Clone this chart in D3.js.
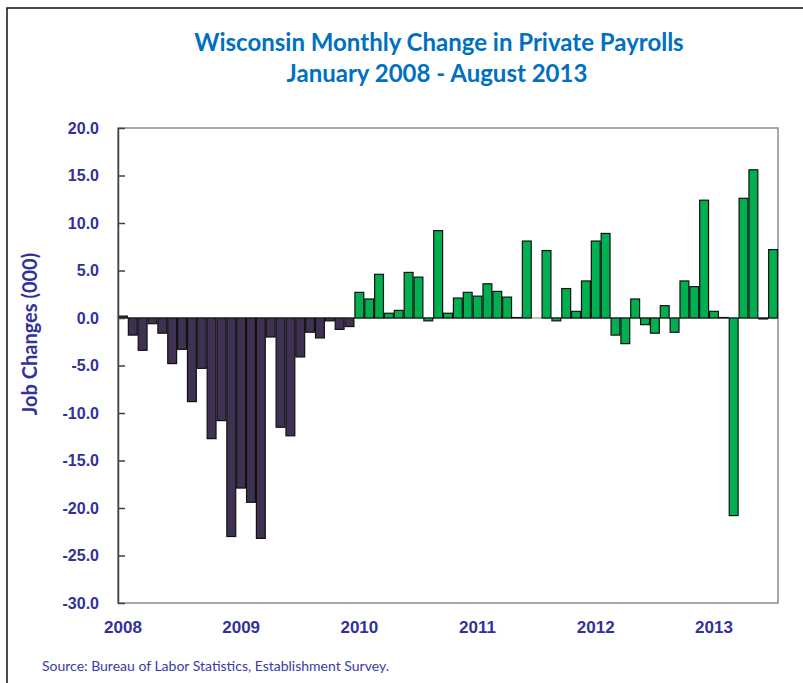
<!DOCTYPE html>
<html>
<head>
<meta charset="utf-8">
<script src="https://cdn.jsdelivr.net/npm/d3@7"></script>
<style>
  body { margin: 0; background: #fff; }
  svg { display: block; font-family: Lato, "Open Sans", sans-serif; }
</style>
</head>
<body>
<div class="payrollchart"></div>
<script>
// monthly change in private payrolls, thousands
var years = ["2008", "2009", "2010", "2011", "2012", "2013"];
var changes2008 = [0.2, -1.8, -3.4, -0.6, -1.6, -4.8, -3.3, -8.8, -5.3, -12.7, -10.8, -23.0];
var changes2009 = [-17.9, -19.4, -23.2, -2.0, -11.5, -12.4, -4.1, -1.5, -2.1, -0.3, -1.2, -0.9];
var changes2010 = [2.7, 2.0, 4.6, 0.5, 0.8, 4.8, 4.3, -0.3, 9.2, 0.5, 2.1, 2.7];
var changes2011 = [2.3, 3.6, 2.8, 2.2, 0.05, 8.1, 0.0, 7.1, -0.3, 3.1, 0.7, 3.9];
var changes2012 = [8.1, 8.9, -1.8, -2.7, 2.0, -0.7, -1.6, 1.3, -1.5, 3.9, 3.3, 12.4];
var changes2013 = [0.7, 0.05, -20.8, 12.6, 15.6, -0.1, 7.2];
var yTicks = [20, 15, 10, 5, 0, -5, -10, -15, -20, -25, -30];

var Width = 803, Height = 683;
var Plot = {left: 118, right: 778, top: 128, bottom: 603};

// flatten into one list of months
var byYear = [changes2008, changes2009, changes2010, changes2011, changes2012, changes2013];
var payrolldata = [];
byYear.forEach(function(list, i) {
  list.forEach(function(v, m) {
    payrolldata.push({year: years[i], month: m, key: years[i] + "-" + (m + 1), value: v});
  });
});

var svg = d3.select(".payrollchart").append("svg")
    .attr("width", Width)
    .attr("height", Height);

// outer frame (top and left edges show)
svg.append("path")
    .attr("d", "M7," + Height + "V8H" + Width)
    .attr("fill", "none")
    .attr("stroke", "#111")
    .attr("stroke-width", 1.5);

var x = d3.scaleBand()
    .domain(payrolldata.map(d => d.key))
    .range([Plot.left, Plot.right])
    .paddingInner(0.1)
    .paddingOuter(0.05);

var y = d3.scaleLinear()
    .domain([-30, 20])
    .range([Plot.bottom, Plot.top]);

// plot area border
svg.append("rect")
    .attr("x", Plot.left)
    .attr("y", Plot.top)
    .attr("width", Plot.right - Plot.left)
    .attr("height", Plot.bottom - Plot.top)
    .attr("fill", "none")
    .attr("stroke", "#8a8a8a")
    .attr("stroke-width", 1.5);

// zero line
svg.append("line")
    .attr("x1", Plot.left).attr("x2", Plot.right)
    .attr("y1", y(0)).attr("y2", y(0))
    .attr("stroke", "#8a8a8a")
    .attr("stroke-width", 1.2);

// bars
svg.append("g").selectAll("rect")
  .data(payrolldata)
  .join("rect")
    .attr("x", d => x(d.key))
    .attr("width", x.bandwidth())
    .attr("y", d => y(Math.max(0, d.value)))
    .attr("height", d => Math.abs(y(d.value) - y(0)))
    .attr("fill", d => (d.year == "2008" || d.year == "2009") ? "#3f3151" : "#00b050")
    .attr("stroke", "#111")
    .attr("stroke-width", 1.2);

// y axis
var yAxis = svg.append("g")
    .attr("transform", "translate(" + Plot.left + ",0)")
    .call(d3.axisLeft(y)
      .tickValues(yTicks)
      .tickSizeInner(-7)
      .tickSizeOuter(0)
      .tickPadding(19)
      .tickFormat(d => d.toFixed(1)));
yAxis.select(".domain")
    .attr("stroke", "#404040")
    .attr("stroke-width", 1.5);
yAxis.selectAll(".tick line")
    .attr("stroke", "#404040")
    .attr("stroke-width", 1.5);
yAxis.selectAll(".tick text")
    .attr("fill", "#31319a")
    .style("font-size", "16px")
    .style("font-weight", "bold");

// x axis, one label per January
var xAxis = svg.append("g")
    .attr("transform", "translate(0," + Plot.bottom + ")")
    .call(d3.axisBottom(x)
      .tickValues(payrolldata.filter(d => d.month == 0).map(d => d.key))
      .tickSize(0)
      .tickPadding(18)
      .tickFormat(k => k.split("-")[0]));
xAxis.select(".domain").remove();
xAxis.selectAll(".tick text")
    .attr("fill", "#31319a")
    .style("font-size", "17px")
    .style("font-weight", "bold");

// Y axis label
svg.append("text")
    .attr("transform", "translate(37,334) rotate(-90)")
    .attr("text-anchor", "middle")
    .attr("fill", "#31319a")
    .style("font-size", "20px")
    .style("font-weight", "bold")
    .text("Job Changes (000)");

// Graph title
svg.append("text")
    .attr("x", 439)
    .attr("y", 51)
    .attr("text-anchor", "middle")
    .attr("fill", "#0070c0")
    .style("font-size", "24px")
    .style("font-weight", "bold")
    .text("Wisconsin Monthly Change in Private Payrolls");
svg.append("text")
    .attr("x", 437)
    .attr("y", 82)
    .attr("text-anchor", "middle")
    .attr("fill", "#0070c0")
    .style("font-size", "24px")
    .style("font-weight", "bold")
    .text("January 2008 - August 2013");

// source note
svg.append("text")
    .attr("x", 42)
    .attr("y", 671)
    .attr("fill", "#3a3aa8")
    .style("font-size", "14px")
    .text("Source: Bureau of Labor Statistics, Establishment Survey.");
</script>
</body>
</html>
